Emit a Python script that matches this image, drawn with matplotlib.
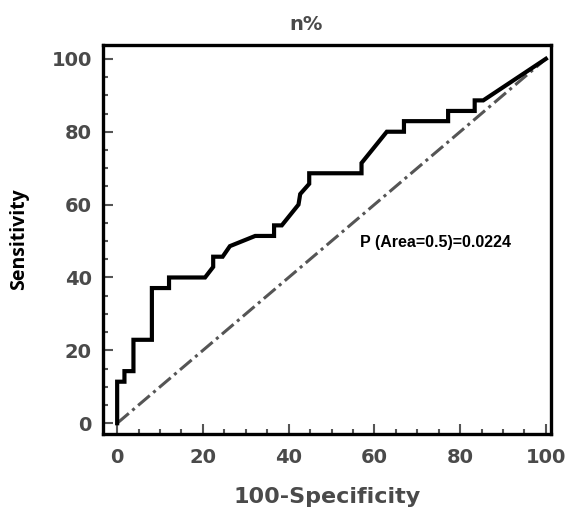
import matplotlib
matplotlib.use("Agg")
import matplotlib.pyplot as plt
from matplotlib.ticker import MultipleLocator

# ROC curve vertices
fpr = [0, 0, 1.7, 1.7, 3.8, 3.8, 8.1, 8.1, 12.1, 12.1, 20.5, 22.4, 22.4, 24.6,
       26.3, 32.2, 36.6, 36.6, 38.4, 42.3, 42.7, 44.8, 44.8, 57.0, 57.0, 62.9,
       66.9, 66.9, 77.2, 77.2, 83.4, 83.4, 85.4, 100]
tpr = [0, 11.4, 11.4, 14.3, 14.3, 22.9, 22.9, 37.1, 37.1, 40.0, 40.0, 42.9, 45.7, 45.7,
       48.6, 51.4, 51.4, 54.3, 54.3, 60.0, 62.9, 65.7, 68.6, 68.6, 71.4, 80.0,
       80.0, 82.9, 82.9, 85.7, 85.7, 88.6, 88.6, 100]
diag = [0, 100]
ticks = [0, 20, 40, 60, 80, 100]
p_text = "P (Area=0.5)=0.0224"

fig = plt.figure(figsize=(5.66, 5.09), dpi=100)
ax = fig.add_axes([0.182, 0.147, 0.7915, 0.7646])

ax.plot(diag, diag, color='#555555', lw=2.2, ls=(0, (5, 1.5, 1, 1.5)))
ax.plot(fpr, tpr, color='black', lw=3.0, solid_joinstyle='miter')

ax.set_xlim(-3.3, 101.2)
ax.set_ylim(-3.0, 103.8)
ax.set_xticks(ticks)
ax.set_yticks(ticks)
ax.xaxis.set_minor_locator(MultipleLocator(5))
ax.yaxis.set_minor_locator(MultipleLocator(5))
ax.tick_params(which='major', direction='in', length=7, width=1.5, color='#555555',
               labelsize=14, labelcolor='#4a4a4a')
ax.tick_params(which='minor', direction='in', length=3.6, width=1.5, color='#555555')
ax.tick_params(axis='x', pad=10)
ax.tick_params(axis='y', pad=8)
for lab in ax.get_xticklabels() + ax.get_yticklabels():
    lab.set_fontweight('bold')
for s in ax.spines.values():
    s.set_linewidth(2.4)
    s.set_color('black')

ax.set_xlabel('100-Specificity', fontsize=16, fontweight='bold', color='#4a4a4a', labelpad=14)
ax.set_ylabel('Sensitivity', fontsize=14, fontweight='bold', color='black',
              family=['Open Sans', 'DejaVu Sans'], labelpad=16)
fig.text(0.541, 0.951, 'n%', ha='center', va='center', fontsize=14,
         fontweight='bold', color='#4a4a4a')

ax.text(56.6, 49.5, p_text, ha='left', va='center', fontsize=11.5, fontweight='bold',
        family=['Liberation Sans', 'DejaVu Sans'], color='black')

fig.savefig('out.png', dpi=100)
